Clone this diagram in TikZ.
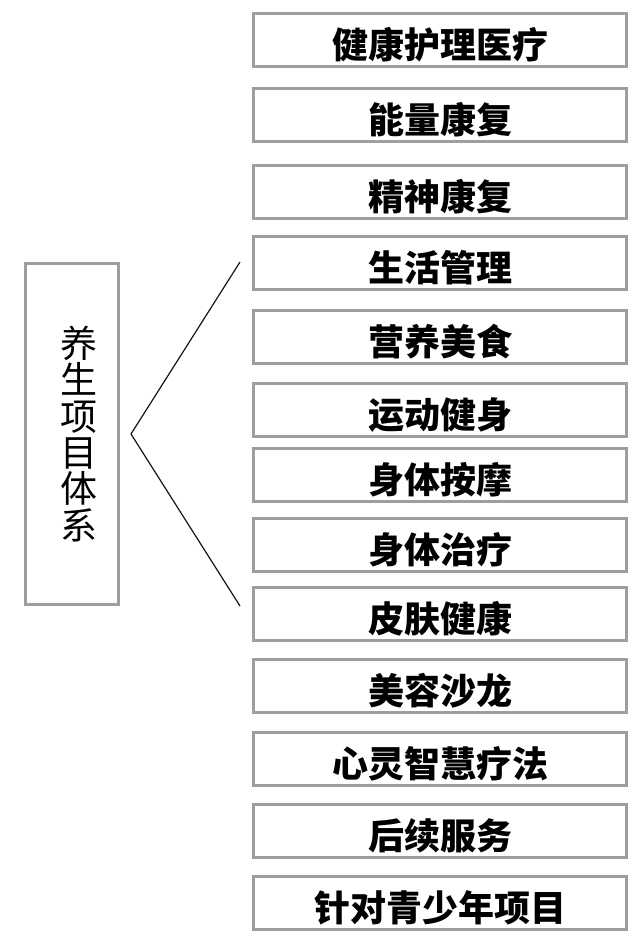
\documentclass[tikz,border=0pt]{standalone}
\usepackage{fontspec}
\newfontfamily\cjk{Noto Sans CJK SC}
\usepackage{tikz}
\usetikzlibrary{positioning,calc}
\definecolor{FrameGrey}{HTML}{9E9E9E}
\definecolor{LinkInk}{HTML}{151515}

\begin{document}
\begin{tikzpicture}[x=1pt,y=-1pt,node distance=16pt]
  \tikzset{
    item/.style={draw=FrameGrey,line width=3pt,minimum width=373pt,minimum height=53pt,inner sep=0pt,
      font=\cjk\bfseries\fontsize{36}{36}\selectfont,text height=37.4pt,text depth=0pt},
    root/.style={draw=FrameGrey,line width=3pt,minimum width=93pt,minimum height=341pt,inner sep=0pt,
      text width=51pt,align=right,font=\cjk\fontsize{37}{36.3}\selectfont},
    link/.style={line width=1.2pt,draw=LinkInk}
  }
  \useasboundingbox (0,0) rectangle (640,947);
  \node[item] (care) at (440,40) {健康护理医疗};
  \node[item,below=19pt of care] (energy) {能量康复};
  \node[item,below=20.5pt of energy] (spirit) {精神康复};
  \node[item,below=15.5pt of spirit] (life) {生活管理};
  \node[item,below=17.5pt of life] (diet) {营养美食};
  \node[item,below=17pt of diet] (sport) {运动健身};
  \node[item,below=9.5pt of sport] (massage) {身体按摩};
  \node[item,below=13.5pt of massage] (therapy) {身体治疗};
  \node[item,below=13.5pt of therapy] (skin) {皮肤健康};
  \node[item,below=16pt of skin] (salon) {美容沙龙};
  \node[item,below=17pt of salon] (mind) {心灵智慧疗法};
  \node[item,below=16pt of mind] (follow) {后续服务};
  \node[item,below=15.5pt of follow] (youth) {针对青少年项目};
  \node[root] (system) at (72,434) {养\\生\\项\\目\\体\\系};
  \coordinate (apex) at ($(system.east)+(11,0)$);
  \coordinate (upper) at ($(system.north -| life.west)+(-12,0)$);
  \coordinate (lower) at ($(system.south -| skin.west)+(-12,0)$);
  \draw[link] (upper) -- (apex) -- (lower);
\end{tikzpicture}
\end{document}
